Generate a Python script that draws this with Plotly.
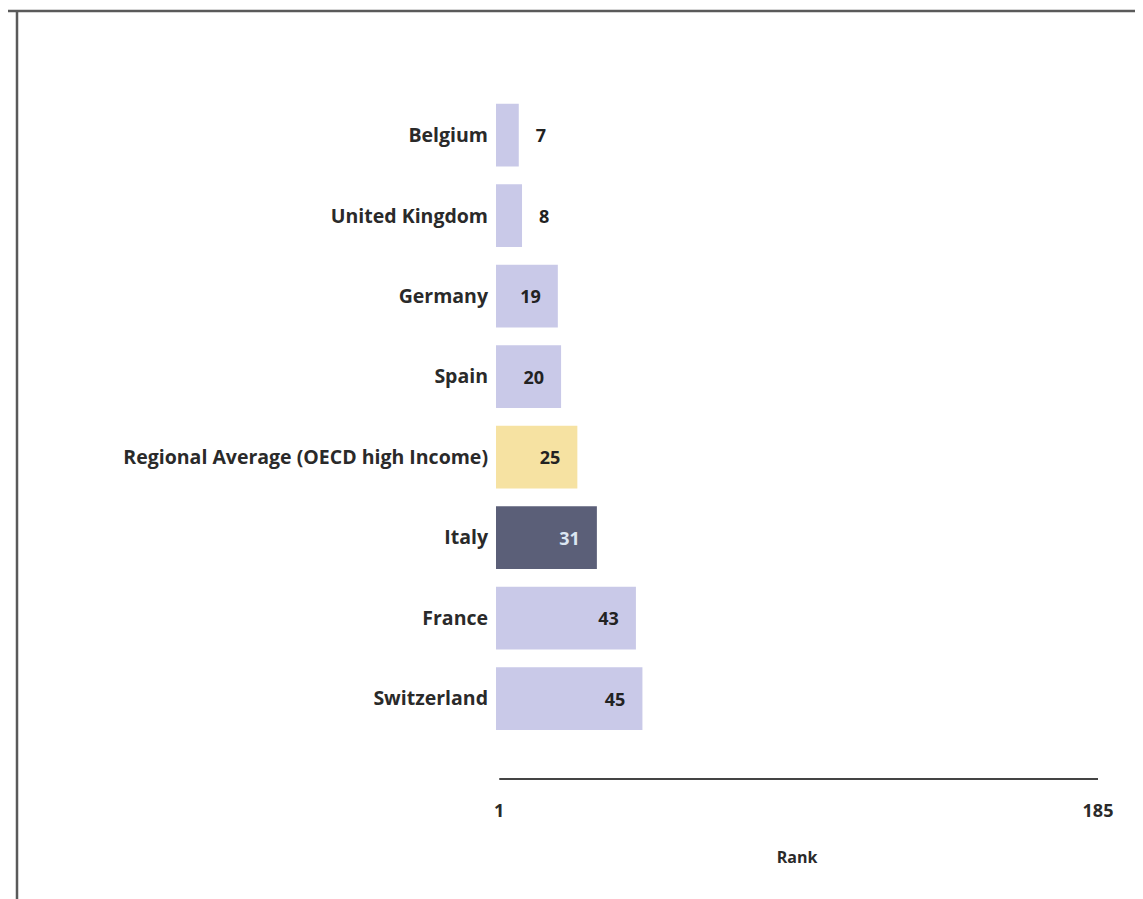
import plotly.graph_objects as go

countries = ["Belgium", "United Kingdom", "Germany", "Spain",
             "Regional Average (OECD high Income)", "Italy", "France", "Switzerland"]
ranks = [7, 8, 19, 20, 25, 31, 43, 45]
bar_colors = ["#c9c9e8", "#c9c9e8", "#c9c9e8", "#c9c9e8",
              "#f6e2a2", "#5b5f78", "#c9c9e8", "#c9c9e8"]
text_colors = ["#222222"] * 5 + ["#dce6f2"] + ["#222222"] * 2
text_pos = ["outside", "outside", "inside", "inside", "inside", "inside", "inside", "inside"]
x_min, x_max = 1, 185
axis_title = "Rank"

FONT = "Open Sans"
NB = "\u00a0"
labels = [(NB * 3 + str(r)) if p == "outside" else (str(r) + NB * 3)
          for r, p in zip(ranks, text_pos)]

fig = go.Figure(go.Bar(
    x=ranks, y=countries, orientation="h",
    marker=dict(color=bar_colors, line=dict(width=0)),
    width=0.78,
    text=labels, textposition=text_pos, insidetextanchor="end",
    textfont=dict(family=FONT, size=18, color=text_colors, weight="bold"),
    cliponaxis=False,
    hoverinfo="skip",
))

# page body has an 8px margin; shift drawing to compensate
OFF = 8
W, H = 1143, 899
ml, mr, mt, mb = 496 - OFF, W - (1098 - OFF), 95 - OFF, H - (779 - OFF)
pw, ph = W - ml - mr, H - mt - mb

def px(xp):
    return (xp - OFF - ml) / pw

def py(yp):
    return (H - mb - (yp - OFF)) / ph

fig.update_layout(
    width=W, height=H,
    margin=dict(l=ml, r=mr, t=mt, b=mb, pad=0),
    paper_bgcolor="white", plot_bgcolor="white",
    showlegend=False,
    font=dict(family=FONT, color="#2a2a2a"),
    xaxis=dict(range=[0, x_max], tickvals=[x_min, x_max], ticktext=[str(x_min), str(x_max)],
               showgrid=False, zeroline=False, showline=False, ticks="",
               tickfont=dict(family=FONT, size=18, color="#2a2a2a", weight="bold"),
               ticklabelstandoff=19,
               title=dict(text=axis_title, standoff=30,
                          font=dict(family=FONT, size=16, color="#2a2a2a", weight="bold"))),
    yaxis=dict(categoryorder="array", categoryarray=countries,
               range=[8.0, -0.5], showgrid=False, zeroline=False, showline=False, ticks="",
               tickfont=dict(family=FONT, size=19.5, color="#2a2a2a", weight="bold"),
               ticklabelstandoff=7),
    shapes=[
        dict(type="line", xref="x", yref="paper", x0=x_min, x1=x_max, y0=0, y1=0,
             line=dict(color="#444444", width=2)),
        dict(type="line", xref="paper", yref="paper", x0=px(8), x1=px(1160), y0=py(11), y1=py(11),
             line=dict(color="#5a5a5a", width=2.5)),
        dict(type="line", xref="paper", yref="paper", x0=px(17), x1=px(17), y0=py(11), y1=py(910),
             line=dict(color="#5a5a5a", width=2.5)),
    ],
)

fig.write_html("out.html")
